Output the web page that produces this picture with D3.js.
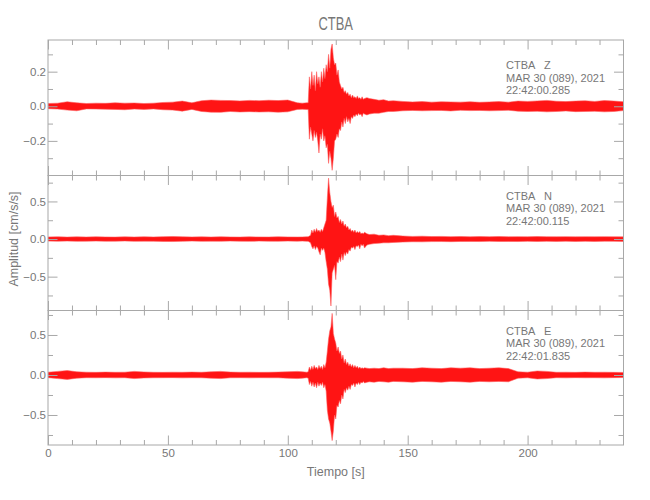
<!DOCTYPE html>
<html><head><meta charset="utf-8">
<script src="https://cdn.jsdelivr.net/npm/d3@7"></script>
<style>
body{margin:0;background:#fff}
text{font-family:"Liberation Sans",Arial,sans-serif;fill:#777}
</style>
</head><body>
<svg id="c" width="650" height="500"></svg>
<script>
// ---- data (envelope of each trace: max / min amplitude) ----
const times=[0,4,8,12,16,20,24,28,32,36,40,44,48,52,56,60,64,68,72,76,80,84,88,92,96,100,104,
106,108,
108.5,109,109.5,110,110.5,111,111.5,112,112.5,113,113.5,114,114.5,115,115.5,116,116.5,117,117.5,118,
118.5,119,119.5,120,120.5,121,121.5,122,122.5,123,123.5,124,124.5,125,125.5,126,126.5,127,127.5,128,
128.5,129,129.5,130,130.5,131,131.5,132,
133,134,136,138,140,142,144,
148,152,156,160,164,168,172,176,180,184,188,192,196,200,204,208,212,216,220,224,228,232,236,240];

const zUpper=[.016,.018,.026,.02,.016,.018,.017,.02,.018,.019,.016,.018,.022,.024,.03,.02,.032,.036,.034,.033,.031,.034,.032,.035,.033,.036,.02,
.018,.02,
.02,.17,.1,.2,.12,.18,.09,.2,.13,.17,.11,.2,.14,.22,.16,.24,.2,.3,.22,.33,
.36,.28,.24,.25,.18,.21,.14,.12,.1,.11,.08,.09,.07,.08,.06,.07,.05,.065,.05,.055,
.045,.06,.045,.05,.04,.055,.04,.045,
.05,.045,.04,.035,.038,.03,.032,
.028,.025,.027,.024,.026,.025,.024,.026,.023,.025,.027,.024,.03,.028,.031,.034,.029,.027,.03,.032,.028,.033,.03,.026];
const zLower=[-.014,-.016,-.022,-.026,-.015,-.016,-.017,-.018,-.02,-.016,-.018,-.015,-.02,-.022,-.028,-.018,-.03,-.034,-.035,-.03,-.033,-.031,-.033,-.032,-.034,-.032,-.018,
-.017,-.018,
-.018,-.19,-.12,-.16,-.2,-.14,-.18,-.15,-.2,-.27,-.16,-.19,-.13,-.2,-.17,-.24,-.22,-.33,-.26,-.3,
-.37,-.3,-.2,-.19,-.16,-.18,-.13,-.14,-.09,-.12,-.07,-.1,-.06,-.09,-.07,-.1,-.06,-.07,-.05,-.06,
-.045,-.055,-.04,-.05,-.045,-.06,-.04,-.045,
-.05,-.045,-.04,-.04,-.035,-.03,-.03,
-.026,-.024,-.026,-.025,-.024,-.027,-.023,-.025,-.024,-.026,-.025,-.023,-.028,-.03,-.029,-.032,-.03,-.027,-.031,-.03,-.029,-.032,-.03,-.025];

const nUpper=[.028,.03,.026,.029,.027,.03,.028,.026,.029,.027,.03,.028,.032,.034,.03,.028,.029,.027,.03,.028,.026,.029,.028,.027,.03,.028,.027,
.028,.03,
.03,.04,.05,.12,.08,.13,.09,.14,.1,.12,.09,.13,.1,.15,.2,.25,.55,.81,.62,.5,
.42,.45,.3,.36,.28,.3,.22,.26,.2,.24,.17,.2,.15,.17,.12,.14,.1,.12,.09,.12,
.08,.1,.08,.1,.07,.08,.07,.09,
.07,.06,.065,.05,.055,.045,.05,
.04,.035,.038,.033,.035,.032,.034,.03,.033,.031,.034,.03,.032,.03,.033,.031,.03,.032,.029,.031,.03,.032,.03,.029];
const nLower=[-.027,-.029,-.027,-.03,-.028,-.027,-.029,-.028,-.026,-.03,-.028,-.029,-.031,-.033,-.03,-.027,-.03,-.028,-.029,-.027,-.028,-.03,-.027,-.028,-.029,-.027,-.028,
-.027,-.03,
-.03,-.04,-.05,-.1,-.13,-.09,-.14,-.1,-.12,-.17,-.21,-.12,-.15,-.12,-.18,-.3,-.4,-.6,-.68,-.89,
-.45,-.4,-.35,-.54,-.3,-.32,-.24,-.3,-.2,-.28,-.18,-.22,-.17,-.2,-.14,-.16,-.11,-.12,-.1,-.14,
-.09,-.1,-.08,-.13,-.07,-.09,-.07,-.12,
-.08,-.07,-.06,-.055,-.05,-.05,-.045,
-.04,-.036,-.037,-.034,-.033,-.035,-.032,-.031,-.033,-.03,-.032,-.031,-.033,-.03,-.032,-.03,-.031,-.029,-.032,-.03,-.031,-.029,-.03,-.031];

const eUpper=[.035,.045,.055,.04,.035,.033,.036,.034,.035,.045,.038,.034,.033,.035,.034,.036,.034,.04,.045,.036,.034,.035,.033,.034,.036,.04,.045,
.04,.035,
.04,.1,.06,.11,.07,.12,.08,.1,.07,.12,.08,.11,.07,.13,.09,.16,.3,.45,.55,.6,
.77,.52,.45,.4,.3,.35,.27,.3,.2,.25,.15,.2,.13,.16,.11,.14,.1,.13,.09,.12,
.09,.11,.08,.1,.08,.09,.08,.09,
.085,.08,.085,.08,.09,.08,.085,
.085,.08,.09,.085,.08,.09,.085,.09,.08,.085,.09,.08,.04,.035,.05,.045,.034,.035,.033,.036,.034,.035,.033,.032];
const eLower=[-.033,-.045,-.055,-.04,-.034,-.035,-.033,-.036,-.034,-.045,-.037,-.035,-.034,-.033,-.036,-.034,-.035,-.04,-.045,-.035,-.034,-.036,-.034,-.035,-.035,-.04,-.045,
-.04,-.034,
-.04,-.12,-.08,-.14,-.09,-.15,-.1,-.16,-.09,-.14,-.1,-.13,-.09,-.16,-.12,-.2,-.44,-.55,-.6,-.7,
-.82,-.7,-.5,-.55,-.38,-.4,-.32,-.36,-.25,-.3,-.18,-.22,-.16,-.19,-.14,-.18,-.12,-.13,-.1,-.15,
-.1,-.12,-.09,-.12,-.09,-.1,-.08,-.1,
-.09,-.085,-.09,-.08,-.085,-.09,-.08,
-.085,-.09,-.08,-.085,-.09,-.08,-.085,-.09,-.08,-.085,-.08,-.085,-.04,-.035,-.05,-.045,-.034,-.036,-.033,-.035,-.034,-.036,-.033,-.032];

const station="CTBA";
const components=["Z","N","E"];
const dateLabel="MAR 30 (089), 2021";
const startTimes=["22:42:00.285","22:42:00.115","22:42:01.835"];
const yLimits=[[-0.40,0.383],[-0.95,0.845],[-0.875,0.806]];
const yMajor=[[-0.2,0,0.2],[-0.5,0,0.5],[-0.5,0,0.5]];
const yMinor=[[-0.3,-0.1,0.1,0.3],[-0.75,-0.25,0.25,0.75],[-0.75,-0.25,0.25,0.75]];
const xLimits=[0,240];
const xMajor=[0,50,100,150,200];
const xMinor=[10,20,30,40,60,70,80,90,110,120,130,140,160,170,180,190,210,220,230];
const xTitle="Tiempo [s]";
const yTitle="Amplitud [cm/s/s]";

// ---- layout ----
const L=48,R=623.5;
const panelTops=[40,175.5,310.5];
const panelH=[135.5,135,134.5];
const annOffset=[29.3,24.5,24.5];
const uppers=[zUpper,nUpper,eUpper], lowers=[zLower,nLower,eLower];
const axisCol="#a8a8a8", traceCol="#ff0000";
const MAJ=9.5, MIN=5;

const svg=d3.select("#c");
const x=d3.scaleLinear().domain(xLimits).range([L,R]);

function label(parent,px,py,s,size,anchor,sx,rot){
  return parent.append("text")
    .attr("transform",`translate(${px},${py}) rotate(${rot||0}) scale(${sx||1},1)`)
    .attr("text-anchor",anchor||"start").style("font-size",size+"px").text(s);
}

label(svg,(L+R)/2,30,station,19,"middle",0.68);

function styleAxis(g){
  g.select(".domain").remove();
  g.selectAll(".tick line").attr("stroke",axisCol);
  g.selectAll("text").attr("fill","#777").style("font-size","11.5px")
    .style("font-family","'Liberation Sans',Arial,sans-serif");
}

components.forEach((c,i)=>{
  const top=panelTops[i], bot=top+panelH[i];
  const y=d3.scaleLinear().domain(yLimits[i]).range([bot,top]);
  const g=svg.append("g");
  const cid="clip"+i;
  svg.append("clipPath").attr("id",cid).append("rect").attr("x",L).attr("y",top-8).attr("width",R-L).attr("height",bot-top+16);

  const rows=times.map((t,k)=>({t,hi:uppers[i][k],lo:lowers[i][k]}));
  const area=d3.area().x(d=>x(d.t)).y0(d=>y(d.lo)).y1(d=>y(d.hi));
  g.append("path").datum(rows).attr("clip-path",`url(#${cid})`)
    .attr("d",area).attr("fill",traceCol).attr("fill-opacity",0.92)
    .attr("stroke","#ff5a5a").attr("stroke-width",0.8).attr("stroke-opacity",0.7);

  g.append("rect").attr("x",L).attr("y",top).attr("width",R-L).attr("height",bot-top)
    .attr("fill","none").attr("stroke",axisCol).attr("stroke-width",1);

  const fmt=d3.format(".1f");
  g.append("g").attr("transform",`translate(${L},0)`)
    .call(d3.axisLeft(y).tickValues(yMajor[i]).tickSize(-MAJ).tickPadding(2).tickFormat(fmt)).call(styleAxis);
  g.append("g").attr("transform",`translate(${L},0)`)
    .call(d3.axisLeft(y).tickValues(yMinor[i]).tickSize(-MIN).tickFormat("")).call(styleAxis);
  g.append("g").attr("transform",`translate(${R},0)`)
    .call(d3.axisRight(y).tickValues(yMajor[i]).tickSize(-MAJ).tickFormat("")).call(styleAxis);
  g.append("g").attr("transform",`translate(${R},0)`)
    .call(d3.axisRight(y).tickValues(yMinor[i]).tickSize(-MIN).tickFormat("")).call(styleAxis);
  g.append("g").attr("transform",`translate(0,${top})`)
    .call(d3.axisTop(x).tickValues(xMajor).tickSize(-MAJ).tickFormat("")).call(styleAxis);
  g.append("g").attr("transform",`translate(0,${top})`)
    .call(d3.axisTop(x).tickValues(xMinor).tickSize(-MIN).tickFormat("")).call(styleAxis);
  const last=i===components.length-1;
  g.append("g").attr("transform",`translate(0,${bot})`)
    .call(d3.axisBottom(x).tickValues(xMajor).tickSize(-MAJ).tickPadding(4).tickFormat(last?d3.format("d"):"")).call(styleAxis);
  g.append("g").attr("transform",`translate(0,${bot})`)
    .call(d3.axisBottom(x).tickValues(xMinor).tickSize(-MIN).tickFormat("")).call(styleAxis);

  const base=top+annOffset[i];
  const ann=svg.append("text").attr("x",506).attr("y",base).style("font-size","11px").attr("xml:space","preserve");
  ann.append("tspan").attr("x",506).text(`${station}   ${c}`);
  ann.append("tspan").attr("x",506).attr("dy",12.4).text(dateLabel);
  ann.append("tspan").attr("x",506).attr("dy",12.4).text(startTimes[i]);
});

label(svg,(L+R)/2,476,xTitle,12.5,"middle",1);
label(svg,17.5,239,yTitle,12.5,"middle",1,-90);
</script>
</body></html>
